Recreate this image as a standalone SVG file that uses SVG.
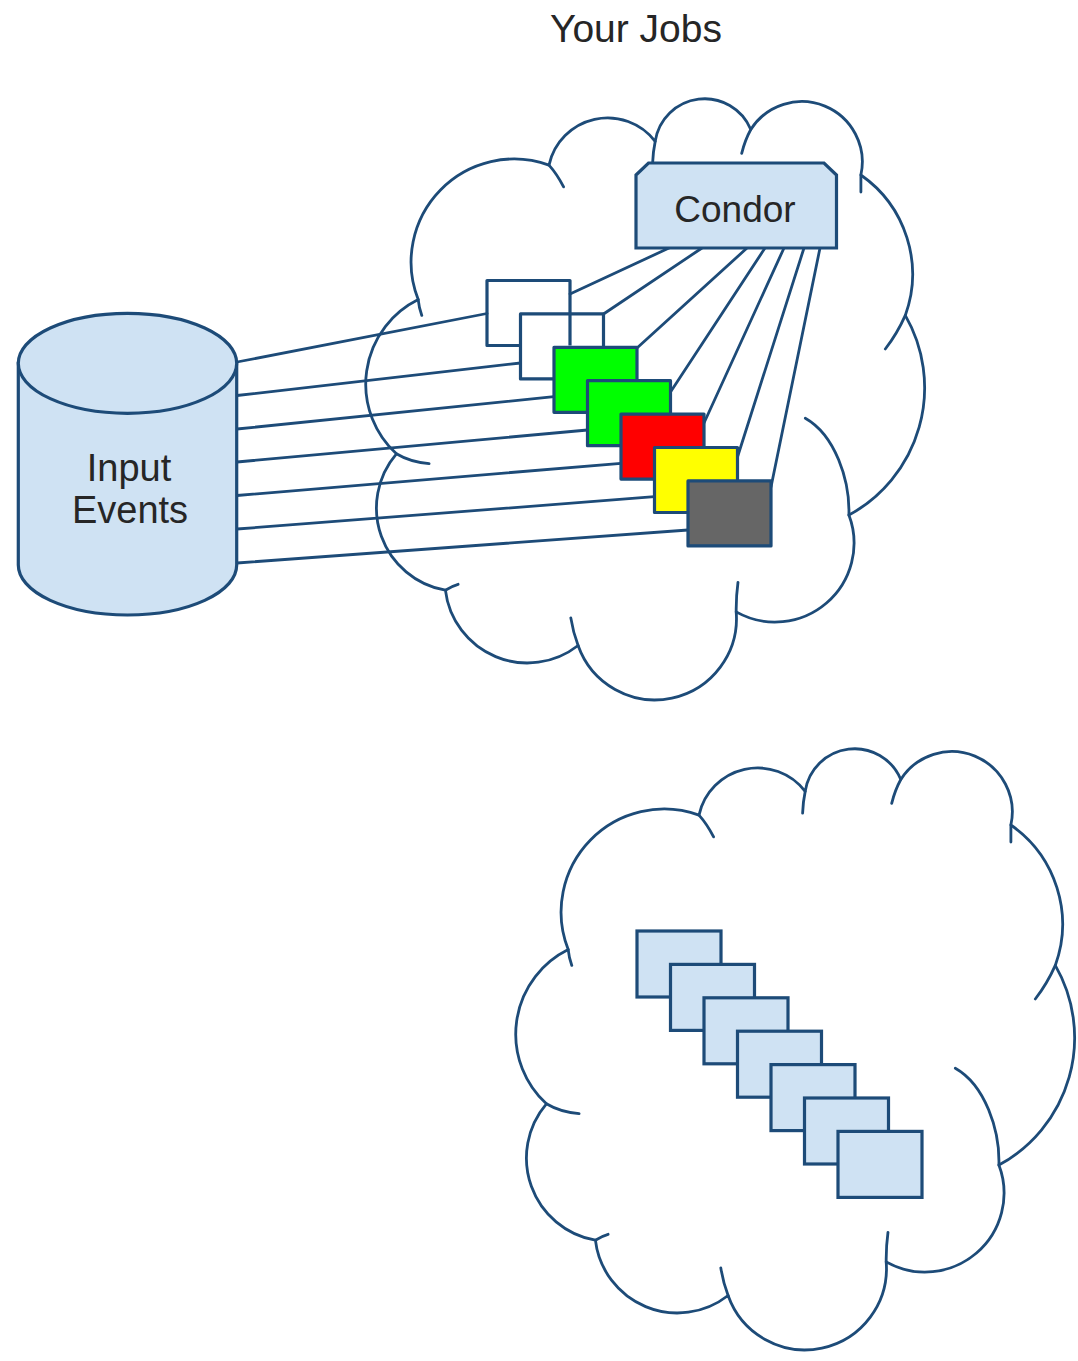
<svg xmlns="http://www.w3.org/2000/svg" xmlns:xlink="http://www.w3.org/1999/xlink" width="1078" height="1361" viewBox="0 0 1078 1361">
  <style>
    .ln { stroke: #1d4b78; stroke-width: 2.8; fill: none; stroke-linecap: round; }
    .cl { stroke: #1d4b78; stroke-width: 2.8; fill: #ffffff; stroke-linejoin: round; }
    .ct { stroke: #1d4b78; stroke-width: 2.8; fill: none; stroke-linecap: round; }
    .bx { stroke: #1d4b78; stroke-width: 3.2; stroke-linejoin: round; }
    .lb { fill: #cfe2f3; stroke: #1d4b78; stroke-width: 3.2; }
    .tx { font-family: "Liberation Sans", Arial, sans-serif; fill: #262626; text-anchor: middle; }
  </style>
  <defs>
    <g id="cloudShape">
      <path class="cl" d="M418.2,299.6 A103,103 0 0 1 549,165.1 A60,60 0 0 1 655.2,141.4 A50,50 0 0 1 750.8,129.5 A60.5,60.5 0 0 1 860.9,175 A121,121 0 0 1 905.3,315.4 A145,145 0 0 1 848.9,515.1 A79,79 0 0 1 736.2,611.9 A81.5,81.5 0 0 1 578.1,645.5 A82.5,82.5 0 0 1 445.4,590.2 A83.5,83.5 0 0 1 396.4,453.8 A94.4,94.4 0 0 1 418.2,299.6 Z"/>
      <path class="ct" d="M418.2,299.6 Q419,308 421.8,315.4 M549,165.1 Q557,174 563.6,186.9 M655.2,141.4 Q653,152 652.6,163.2 M750.8,129.5 Q745,140 741.7,153.3 M860.9,175 L860.9,192 M905.3,315.4 Q897,334 885.3,349 M848.9,515.1 C850,480 835,435 805.3,418.2 M736.2,611.9 Q736,597 738,582.3 M578.1,645.5 Q573,632 570.8,617.9 M445.4,590.2 Q452,586 458.1,584.3 M396.4,453.8 Q410,462 429.1,463.7"/>
    </g>
  </defs>

  <text id="title" class="tx" x="636" y="42" font-size="39">Your Jobs</text>

  <g id="cloud-top"><use xlink:href="#cloudShape" href="#cloudShape"/></g>
  <g id="cloud-bottom"><use xlink:href="#cloudShape" href="#cloudShape" transform="translate(150,650)"/></g>

  <g id="connectors">
    <line class="ln" x1="237" y1="362" x2="487" y2="313.5"/>
    <line class="ln" x1="237" y1="395.5" x2="520.5" y2="363"/>
    <line class="ln" x1="237" y1="429" x2="554" y2="396.7"/>
    <line class="ln" x1="237" y1="462" x2="587.5" y2="430"/>
    <line class="ln" x1="237" y1="495.5" x2="621" y2="463.3"/>
    <line class="ln" x1="237" y1="529" x2="654.5" y2="496.7"/>
    <line class="ln" x1="237" y1="563" x2="688" y2="530"/>
    <line class="ln" x1="669" y1="248" x2="570" y2="294"/>
    <line class="ln" x1="702" y1="248" x2="603.5" y2="314"/>
    <line class="ln" x1="747" y1="248" x2="637" y2="348"/>
    <line class="ln" x1="765" y1="248" x2="670.5" y2="392"/>
    <line class="ln" x1="784" y1="248" x2="704" y2="423"/>
    <line class="ln" x1="804" y1="248" x2="737.5" y2="457"/>
    <line class="ln" x1="820" y1="248" x2="771" y2="487"/>
  </g>

  <g id="input-events">
    <path class="lb" d="M18.3,363.3 V565 A109.2,50 0 0 0 236.7,565 V363.3 Z"/>
    <ellipse class="lb" cx="127.5" cy="363.3" rx="109.2" ry="50"/>
    <text class="tx" x="129" y="480.5" font-size="38">Input</text>
    <text class="tx" x="130" y="522.5" font-size="38">Events</text>
  </g>

  <g id="condor">
    <path class="lb" d="M636,175 L648.5,163 L824,163 L836.5,175 L836.5,248 L636,248 Z" stroke-linejoin="miter"/>
    <text class="tx" x="735" y="221.5" font-size="37">Condor</text>
  </g>

  <g id="job-1"><path class="bx" fill="none" d="M520.5,345.5 H487 V280.5 H570 V345.5"/></g>
  <g id="job-2"><rect class="bx" fill="none" x="520.5" y="313.9" width="83" height="65"/></g>
  <g id="job-3"><rect class="bx" fill="#00ff00" x="554" y="347.3" width="83" height="65"/></g>
  <g id="job-4"><rect class="bx" fill="#00ff00" x="587.5" y="380.7" width="83" height="65"/></g>
  <g id="job-5"><rect class="bx" fill="#ff0000" x="621" y="414.1" width="83" height="65"/></g>
  <g id="job-6"><rect class="bx" fill="#ffff00" x="654.5" y="447.5" width="83" height="65"/></g>
  <g id="job-7"><rect class="bx" fill="#666666" x="688" y="480.9" width="83" height="65"/></g>

  <g id="queued-1"><rect class="lb" x="637" y="931" width="84" height="66"/></g>
  <g id="queued-2"><rect class="lb" x="670.5" y="964.4" width="84" height="66"/></g>
  <g id="queued-3"><rect class="lb" x="704" y="997.8" width="84" height="66"/></g>
  <g id="queued-4"><rect class="lb" x="737.5" y="1031.2" width="84" height="66"/></g>
  <g id="queued-5"><rect class="lb" x="771" y="1064.6" width="84" height="66"/></g>
  <g id="queued-6"><rect class="lb" x="804.5" y="1098" width="84" height="66"/></g>
  <g id="queued-7"><rect class="lb" x="838" y="1131.4" width="84" height="66"/></g>
</svg>
